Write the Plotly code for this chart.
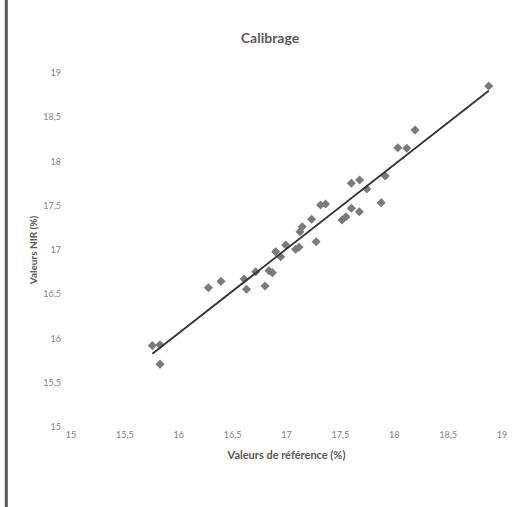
import numpy as np
import plotly.graph_objects as go

# Reference values (%) and NIR values (%)
ref_values = [15.755, 15.826, 15.826, 16.275, 16.392, 16.607, 16.629, 16.715, 16.801,
              16.838, 16.869, 16.900, 16.946, 16.993, 17.085, 17.116, 17.125, 17.146,
              17.233, 17.275, 17.316, 17.362, 17.515, 17.552, 17.602, 17.676, 17.602,
              17.679, 17.746, 17.879, 17.916, 18.033, 18.116, 18.193, 18.877]
nir_values = [15.92, 15.93, 15.71, 16.574, 16.646, 16.672, 16.556, 16.755, 16.593,
              16.766, 16.744, 16.981, 16.924, 17.056, 17.008, 17.031, 17.207, 17.263,
              17.347, 17.094, 17.508, 17.520, 17.339, 17.376, 17.471, 17.433, 17.754,
              17.791, 17.689, 17.535, 17.836, 18.156, 18.149, 18.356, 18.853]

tick_vals = [15, 15.5, 16, 16.5, 17, 17.5, 18, 18.5, 19]
tick_text = ["15", "15,5", "16", "16,5", "17", "17,5", "18", "18,5", "19"]

title_text = "Calibrage"
x_title = "Valeurs de référence (%)"
y_title = "Valeurs NIR (%)"

# Linear trendline (least squares), drawn from min to max reference value
slope, intercept = np.polyfit(ref_values, nir_values, 1)
trend_x = [min(ref_values), max(ref_values)]
trend_y = [slope * v + intercept for v in trend_x]

FONT = "Lato, 'Open Sans', sans-serif"
TXT = "#595959"

fig = go.Figure()
fig.add_trace(go.Scatter(
    x=ref_values, y=nir_values, mode="markers",
    marker=dict(symbol="diamond", size=7, color="#7a7a7a", line=dict(width=0)),
    showlegend=False, hoverinfo="x+y"))
fig.add_trace(go.Scatter(
    x=trend_x, y=trend_y, mode="lines",
    line=dict(color="#333333", width=1.8),
    showlegend=False, hoverinfo="skip"))

fig.update_layout(
    width=519, height=507,
    margin=dict(l=71, r=15, t=73, b=80, pad=0),
    paper_bgcolor="white", plot_bgcolor="white",
    separators=", ",
    font=dict(family=FONT, color=TXT, size=9),
    title=dict(text=title_text, xref="container", x=270 / 519, xanchor="center",
               yref="container", y=1 - 38 / 507, yanchor="middle",
               font=dict(family=FONT, size=14, color=TXT, weight="bold")),
    xaxis=dict(range=[15, 19], tickvals=tick_vals, ticktext=tick_text,
               showgrid=False, zeroline=False, showline=False, ticks="",
               ticklabelstandoff=1,
               tickfont=dict(size=9, color="#7f7f7f"),
               title=dict(text=x_title, standoff=12,
                          font=dict(size=11, color=TXT, weight="bold"))),
    yaxis=dict(range=[15, 19], tickvals=tick_vals, ticktext=tick_text,
               showgrid=False, zeroline=False, showline=False, ticks="",
               ticklabelstandoff=9,
               tickfont=dict(size=9, color="#7f7f7f"),
               title=dict(text=y_title, standoff=3,
                          font=dict(size=10, color=TXT, weight="bold"))),
    shapes=[dict(type="line", xref="paper", yref="paper",
                 x0=-65 / 433, x1=-65 / 433, y0=-0.3, y1=1.3,
                 line=dict(color="#555555", width=3))],
)

fig.write_html("out.html",
               config={"displayModeBar": False},
               post_script="document.body.style.margin='0';document.body.style.overflow='hidden';")
